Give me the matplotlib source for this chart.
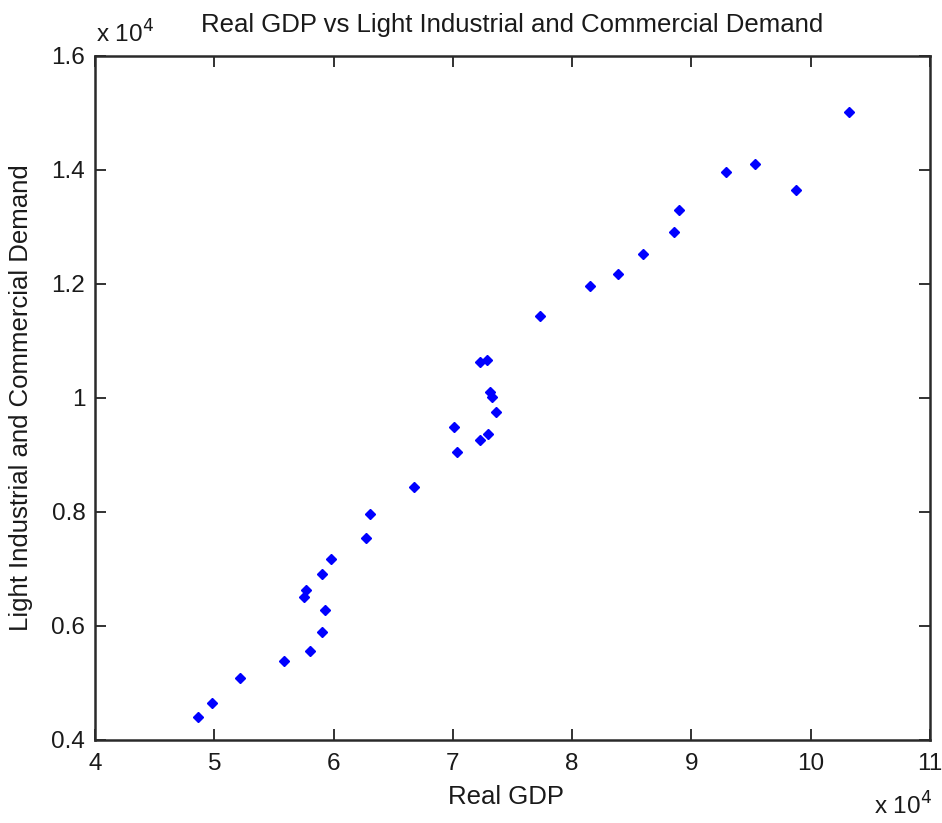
import matplotlib
matplotlib.use("Agg")
from matplotlib import pyplot as plt
import numpy as np

# Real GDP vs demand, raw units
real_gdp = [48610, 49830, 52180, 55870, 58020, 59050, 59250, 57520, 57690, 59050,
            59750, 62700, 63050, 66740, 72270, 72830, 73110, 73280, 73640, 70090,
            72970, 72300, 70320, 77330, 81520, 83870, 85900, 88560, 88930, 92940,
            95290, 98790, 103170]
demand = [4410, 4650, 5080, 5390, 5570, 5890, 6280, 6510, 6630, 6910,
          7180, 7540, 7960, 8440, 10630, 10660, 10100, 10020, 9750, 9500,
          9370, 9260, 9050, 11430, 11960, 12180, 12530, 12910, 13300, 13960,
          14110, 13650, 15020]

x_ticks = [4, 5, 6, 7, 8, 9, 10, 11]
y_ticks = [0.4, 0.6, 0.8, 1.0, 1.2, 1.4, 1.6]
y_tick_labels = ["0.4", "0.6", "0.8", "1", "1.2", "1.4", "1.6"]

plt.rcParams["font.family"] = ["Liberation Sans", "DejaVu Sans"]
FS = 17.5      # tick labels
FS_LAB = 18.5  # title / axis labels
TXT = "#1a1a1a"

fig = plt.figure(figsize=(9.42, 8.23), dpi=100)
ax = fig.add_axes([95 / 942, 83 / 823, 835 / 942, 684 / 823])

ax.plot(np.array(real_gdp) / 1e4, np.array(demand) / 1e4, "D", color="blue",
        markersize=5.2, markeredgewidth=1.0)

ax.set_xlim(4, 11)
ax.set_ylim(0.4, 1.6)
ax.set_xticks(x_ticks)
ax.set_xticklabels([str(t) for t in x_ticks])
ax.set_yticks(y_ticks)
ax.set_yticklabels(y_tick_labels)
ax.tick_params(direction="in", top=True, right=True, length=8, width=1.3,
               labelsize=FS, colors="#222222", labelcolor=TXT)
ax.tick_params(axis="x", pad=9)
ax.tick_params(axis="y", pad=7)
for side in ax.spines.values():
    side.set_linewidth(1.8)
    side.set_color("#2a2a2a")

ax.set_xlabel("Real GDP", fontsize=FS_LAB, color=TXT, va="center")
ax.set_ylabel("Light Industrial and Commercial Demand", fontsize=FS_LAB, color=TXT, va="center")
ax.xaxis.set_label_coords((506 - 95) / 835, (740 - 797) / 684)
ax.yaxis.set_label_coords((21 - 95) / 835, 0.5)

fig.text(512 / 942, 1 - 25 / 823, "Real GDP vs Light Industrial and Commercial Demand",
         fontsize=FS_LAB, ha="center", va="center", color=TXT)

# exponent labels like MATLAB
fig.text(96 / 942, 1 - 34 / 823, r"x 10$^4$", fontsize=FS, ha="left", va="center", color=TXT)
fig.text(932 / 942, 1 - 806 / 823, r"x 10$^4$", fontsize=FS, ha="right", va="center", color=TXT)

fig.savefig("out.png", dpi=100)
